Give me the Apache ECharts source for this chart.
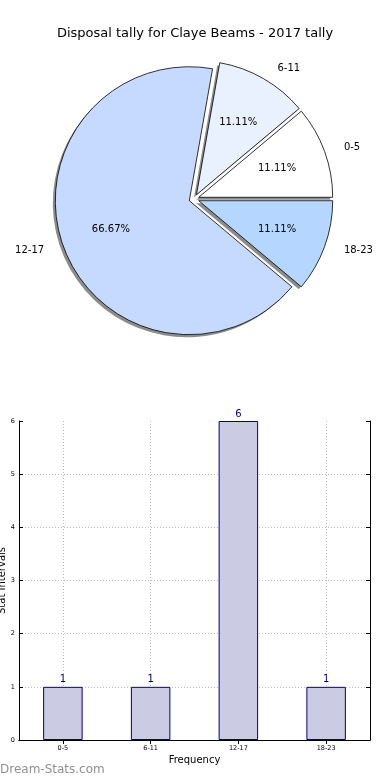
<!DOCTYPE html>
<html>
<head>
<meta charset="utf-8">
<script src="https://cdn.jsdelivr.net/npm/echarts@6/dist/echarts.min.js"></script>
<style>
  html, body { margin: 0; padding: 0; background: #fff; }
  #chart { width: 390px; height: 780px; }
</style>
</head>
<body>
<div id="chart"></div>
<script>
const titleText = 'Disposal tally for Claye Beams - 2017 tally';
const categories = ['0-5', '6-11', '12-17', '18-23'];
const pieValues = [1, 1, 6, 1];
const barValues = [1, 1, 6, 1];
const pieColors = ['#ffffff', '#e9f1ff', '#c6d9fe', '#b4d6ff'];
const yAxisMin = 0, yAxisMax = 6, yAxisStep = 1;
const xAxisName = 'Frequency';
const yAxisName = 'Stat Intervals';
const watermark = 'Dream-Stats.com';

const FONT = 'DejaVu Sans';
const R = 134;
const C = [194, 199];
const OFF = 5;

function pieData(colorFn) {
  return categories.map((c, i) => ({
    name: c, value: pieValues[i], selected: true,
    itemStyle: { color: colorFn(i) }
  }));
}

const commonPie = {
  type: 'pie', startAngle: 0, clockwise: false,
  selectedMode: 'multiple', selectedOffset: OFF,
  avoidLabelOverlap: false, animation: false,
  emphasis: { disabled: true }, silent: true
};

const frameAxisLine = { show: true, lineStyle: { color: '#000', width: 1 } };
const innerTick = { show: true, inside: true, length: 4, lineStyle: { color: '#000' } };
const gridDots = { color: '#bdbdbd', type: [1, 2] };

const chart = echarts.init(document.getElementById('chart'), null, { renderer: 'canvas' });
chart.setOption({
  animation: false,
  title: {
    text: titleText, left: 'center', top: 22,
    textStyle: { fontFamily: FONT, fontSize: 13, fontWeight: 'normal', color: '#000' }
  },
  graphic: [{
    type: 'text', left: 0, top: 764,
    style: { text: watermark, font: '12px "DejaVu Sans"', fill: '#909090' }
  }],
  grid: {
    left: 19, right: 20, top: 421, bottom: 40,
    containLabel: false, outerBoundsMode: 'none',
    show: false
  },
  xAxis: [{
    type: 'category', data: categories,
    name: xAxisName, nameLocation: 'middle', nameGap: 15, nameMoveOverlap: false,
    nameTextStyle: { fontFamily: FONT, fontSize: 10, color: '#000' },
    axisLine: frameAxisLine,
    axisTick: Object.assign({ alignWithLabel: true }, innerTick),
    axisLabel: { fontFamily: FONT, fontSize: 6.5, color: '#000', margin: 5 },
    splitLine: { show: true, alignWithLabel: true, lineStyle: gridDots }
  }, {
    type: 'category', data: categories, position: 'top',
    axisLine: frameAxisLine,
    axisTick: Object.assign({ alignWithLabel: true }, innerTick),
    axisLabel: { show: false }, splitLine: { show: false }
  }],
  yAxis: [{
    type: 'value', min: yAxisMin, max: yAxisMax, interval: yAxisStep,
    name: yAxisName, nameLocation: 'middle', nameGap: 12, nameRotate: 90, nameMoveOverlap: false,
    nameTextStyle: { fontFamily: FONT, fontSize: 10, color: '#000' },
    axisLine: frameAxisLine,
    axisTick: innerTick,
    axisLabel: { fontFamily: FONT, fontSize: 6.5, color: '#000', margin: 4 },
    splitLine: { show: true, showMinLine: false, showMaxLine: false, lineStyle: gridDots }
  }, {
    type: 'value', min: yAxisMin, max: yAxisMax, interval: yAxisStep, position: 'right',
    axisLine: frameAxisLine,
    axisTick: innerTick,
    axisLabel: { show: false }, splitLine: { show: false }
  }],
  series: [
    Object.assign({}, commonPie, {
      name: 'shadow', center: [C[0] - 2.5, C[1] + 2.5], radius: [0, R],
      data: pieData(() => '#8c8c8c'),
      itemStyle: { borderWidth: 0 },
      label: { show: false }, labelLine: { show: false }
    }),
    Object.assign({}, commonPie, {
      name: 'pie', center: C, radius: [0, R],
      data: pieData(i => pieColors[i]),
      itemStyle: { borderColor: '#000', borderWidth: 0.8 },
      label: {
        show: true, position: 'outside', formatter: '{b}',
        fontFamily: FONT, fontSize: 10, color: '#000', distanceToLabelLine: 0
      },
      labelLine: { show: false, length: 12, length2: 8 }
    }),
    Object.assign({}, commonPie, {
      name: 'pct', center: C, radius: [0, R * 1.2],
      data: pieData(() => 'rgba(0,0,0,0)'),
      itemStyle: { borderWidth: 0 },
      label: {
        show: true, position: 'inner', formatter: '{d}%',
        fontFamily: FONT, fontSize: 10, color: '#000'
      },
      labelLine: { show: false }
    }),
    {
      type: 'bar', data: barValues, barWidth: '45%', xAxisIndex: 0, yAxisIndex: 0,
      itemStyle: { color: '#cbcbe3', borderColor: '#00007f', borderWidth: 1 },
      label: { show: true, position: 'top', distance: 2, fontFamily: FONT, fontSize: 10, color: '#00007f' },
      emphasis: { disabled: true }
    }
  ]
});
</script>
</body>
</html>
